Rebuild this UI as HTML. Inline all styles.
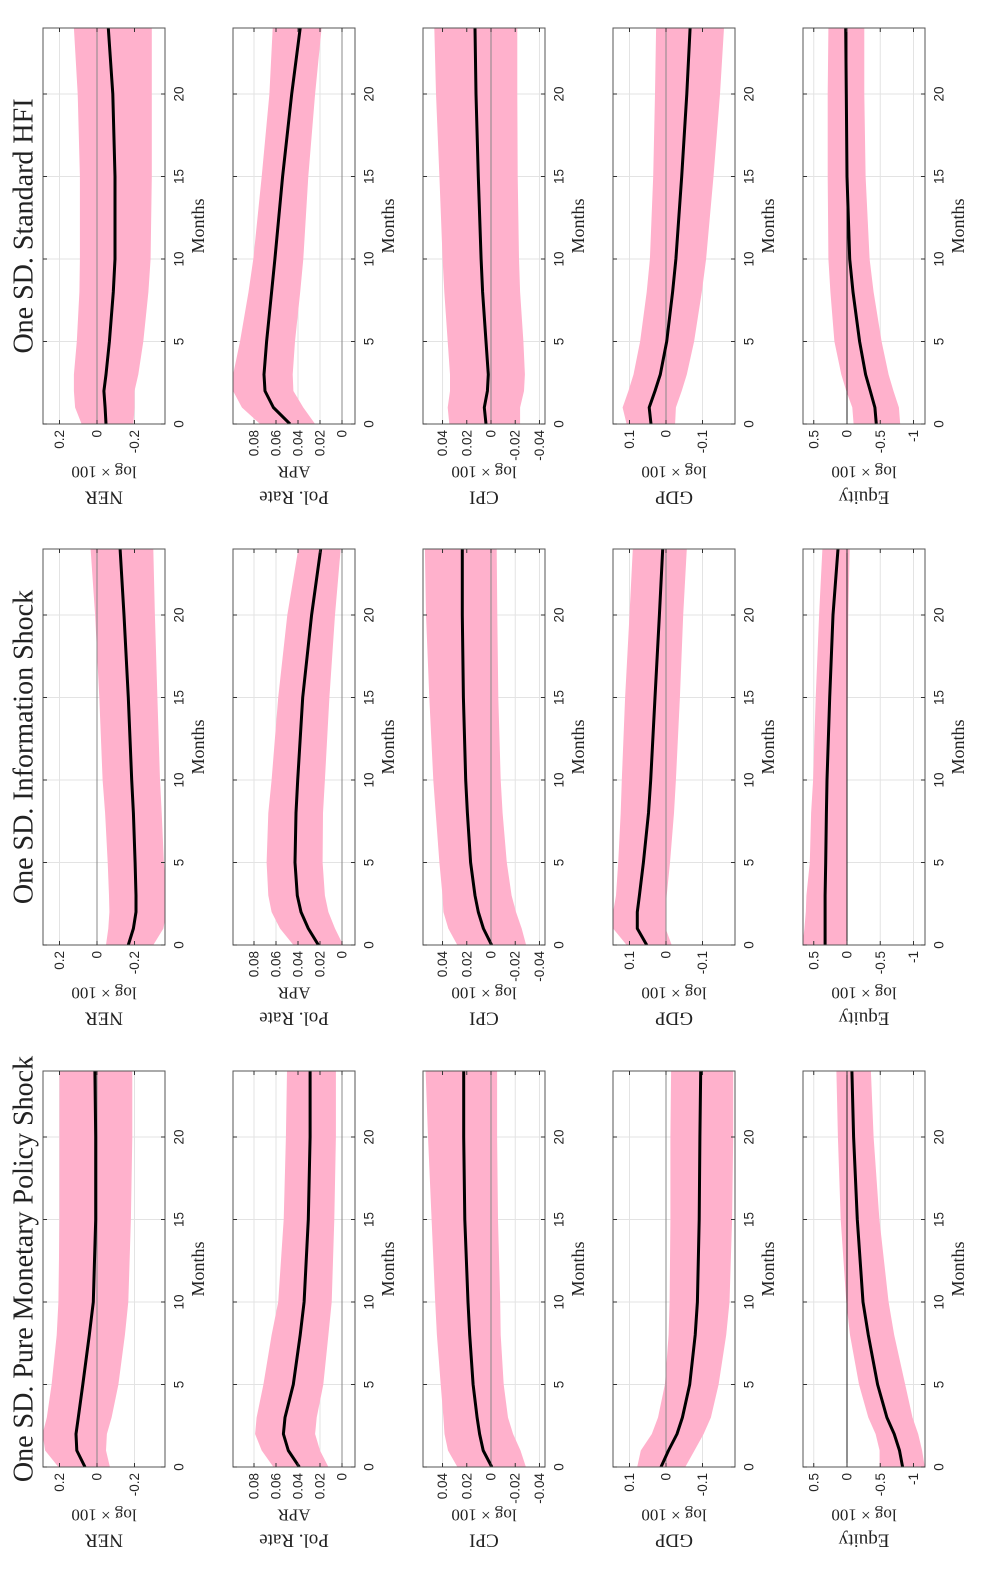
<!DOCTYPE html>
<html><head><meta charset="utf-8">
<style>
html,body{margin:0;padding:0;background:#fff;}
svg{display:block;}
.tick{font-family:"Liberation Sans",sans-serif;font-size:13.5px;fill:#262626;}
.lab{font-family:"Liberation Serif",serif;fill:#222;}
</style></head>
<body>
<svg id="fig" width="981" height="1596" viewBox="0 0 981 1596" xmlns="http://www.w3.org/2000/svg"></svg>
<script>
// ---- data ----
const months = [0,1,2,3,5,8,10,15,20,24];
const shocks = ["One SD. Pure Monetary Policy Shock","One SD. Information Shock","One SD. Standard HFI"];
const variables = ["NER","Pol. Rate","CPI","GDP","Equity"];
const units = ["log × 100","APR","log × 100","log × 100","log × 100"];
const tickNER = [0.2,0,-0.2];
const tickPol = [0.08,0.06,0.04,0.02,0];
const tickCPI = [0.04,0.02,0,-0.02,-0.04];
const tickGDP = [0.1,0,-0.1];
const tickEq = [0.5,0,-0.5,-1];
const tickMonths = [0,5,10,15,20];
// Pure MP shock
const pureNERmid=[0.064,0.108,0.112,0.1,0.076,0.041,0.02,0.007,0.007,0.011];
const pureNERhi=[0.206,0.277,0.29,0.268,0.242,0.215,0.206,0.2,0.2,0.2];
const pureNERlo=[-0.069,-0.048,-0.053,-0.078,-0.114,-0.149,-0.167,-0.181,-0.188,-0.188];
const purePolmid=[0.0388,0.0488,0.0533,0.0518,0.0443,0.038,0.0345,0.0306,0.029,0.029];
const purePolhi=[0.0624,0.073,0.079,0.0776,0.0715,0.064,0.058,0.053,0.051,0.05];
const purePollo=[0.0124,0.02,0.0245,0.023,0.017,0.0124,0.0094,0.007,0.0055,0.0055];
const pureCPImid=[-0.0007,0.0064,0.0094,0.0115,0.0148,0.0176,0.019,0.0216,0.0225,0.0225];
const pureCPIhi=[0.0277,0.0355,0.0384,0.0393,0.0415,0.0446,0.046,0.049,0.052,0.054];
const pureCPIlo=[-0.0288,-0.0243,-0.0182,-0.014,-0.0105,-0.008,-0.0076,-0.0058,-0.005,-0.005];
const pureGDPmid=[0.0137,-0.0068,-0.03,-0.045,-0.065,-0.08,-0.086,-0.091,-0.093,-0.095];
const pureGDPhi=[0.079,0.069,0.039,0.022,0.003,-0.007,-0.01,-0.012,-0.012,-0.014];
const pureGDPlo=[-0.053,-0.078,-0.103,-0.123,-0.144,-0.165,-0.174,-0.181,-0.184,-0.184];
const pureEqmid=[-0.836,-0.79,-0.71,-0.6,-0.46,-0.32,-0.24,-0.155,-0.1,-0.073];
const pureEqhi=[-0.49,-0.49,-0.43,-0.32,-0.18,-0.045,0.01,0.094,0.137,0.16];
const pureEqlo=[-1.17,-1.13,-1.07,-0.985,-0.875,-0.71,-0.625,-0.487,-0.4,-0.36];
// Information shock
const infoNERmid=[-0.167,-0.194,-0.208,-0.208,-0.203,-0.194,-0.185,-0.167,-0.144,-0.123];
const infoNERhi=[-0.048,-0.06,-0.066,-0.064,-0.057,-0.043,-0.03,-0.012,0.01,0.034];
const infoNERlo=[-0.3,-0.354,-0.37,-0.37,-0.357,-0.345,-0.336,-0.322,-0.309,-0.3];
const infoPolmid=[0.0215,0.0306,0.0373,0.0406,0.0427,0.0418,0.0403,0.0357,0.0276,0.0194];
const infoPolhi=[0.0442,0.0564,0.064,0.067,0.0685,0.067,0.064,0.058,0.0497,0.0397];
const infoPollo=[-0.001,0.0064,0.0124,0.0155,0.0176,0.0173,0.0155,0.0115,0.0064,0.0012];
const infoCPImid=[-0.0005,0.0063,0.0105,0.0132,0.0168,0.0195,0.0209,0.0228,0.0237,0.0237];
const infoCPIhi=[0.0278,0.0352,0.0393,0.04,0.0426,0.0456,0.0476,0.0509,0.0536,0.0545];
const infoCPIlo=[-0.029,-0.0253,-0.0206,-0.017,-0.013,-0.0096,-0.008,-0.006,-0.0052,-0.0047];
const infoGDPmid=[0.053,0.0785,0.0785,0.073,0.062,0.048,0.042,0.03,0.018,0.009];
const infoGDPhi=[0.108,0.145,0.145,0.137,0.131,0.124,0.121,0.112,0.1,0.091];
const infoGDPlo=[-0.0155,0.001,0.001,-0.002,-0.011,-0.022,-0.027,-0.038,-0.047,-0.057];
const infoEqmid=[0.33,0.33,0.33,0.33,0.32,0.31,0.3,0.26,0.21,0.135];
const infoEqhi=[0.67,0.64,0.62,0.61,0.56,0.54,0.51,0.47,0.42,0.37];
const infoEqlo=[0.0,0.0,0.0,0.0,0.0,0.0,0.0,-0.01,-0.02,-0.04];
// Standard HFI
const hfiNERmid=[-0.048,-0.043,-0.037,-0.048,-0.066,-0.087,-0.096,-0.096,-0.084,-0.06];
const hfiNERhi=[0.082,0.117,0.123,0.123,0.108,0.094,0.091,0.091,0.103,0.123];
const hfiNERlo=[-0.194,-0.2,-0.2,-0.22,-0.247,-0.274,-0.286,-0.292,-0.292,-0.292];
const hfiPolmid=[0.0473,0.0624,0.07,0.0709,0.0685,0.064,0.061,0.054,0.0457,0.038];
const hfiPolhi=[0.0745,0.091,0.099,0.099,0.0927,0.085,0.0806,0.073,0.066,0.063];
const hfiPollo=[0.0245,0.0352,0.0442,0.0448,0.0427,0.038,0.0352,0.0306,0.0245,0.0185];
const hfiCPImid=[0.0041,0.0055,0.003,0.0022,0.0041,0.0069,0.0082,0.0105,0.0124,0.0132];
const hfiCPIhi=[0.0344,0.0357,0.0338,0.0338,0.0357,0.0385,0.0399,0.0426,0.0454,0.0468];
const hfiCPIlo=[-0.024,-0.024,-0.0272,-0.028,-0.0267,-0.024,-0.0231,-0.022,-0.0217,-0.0217];
const hfiGDPmid=[0.041,0.046,0.03,0.0155,-0.002,-0.018,-0.027,-0.043,-0.057,-0.066];
const hfiGDPhi=[0.108,0.119,0.103,0.089,0.071,0.053,0.044,0.035,0.03,0.027];
const hfiGDPlo=[-0.025,-0.027,-0.043,-0.057,-0.077,-0.098,-0.11,-0.13,-0.148,-0.159];
const hfiEqmid=[-0.44,-0.42,-0.35,-0.28,-0.19,-0.09,-0.04,0.0,0.01,0.02];
const hfiEqhi=[-0.1,-0.08,0.01,0.085,0.19,0.25,0.28,0.29,0.29,0.28];
const hfiEqlo=[-0.8,-0.78,-0.7,-0.625,-0.52,-0.4,-0.34,-0.28,-0.26,-0.26];

const seriesMid=[[pureNERmid,purePolmid,pureCPImid,pureGDPmid,pureEqmid],[infoNERmid,infoPolmid,infoCPImid,infoGDPmid,infoEqmid],[hfiNERmid,hfiPolmid,hfiCPImid,hfiGDPmid,hfiEqmid]];
const seriesHi=[[pureNERhi,purePolhi,pureCPIhi,pureGDPhi,pureEqhi],[infoNERhi,infoPolhi,infoCPIhi,infoGDPhi,infoEqhi],[hfiNERhi,hfiPolhi,hfiCPIhi,hfiGDPhi,hfiEqhi]];
const seriesLo=[[pureNERlo,purePollo,pureCPIlo,pureGDPlo,pureEqlo],[infoNERlo,infoPollo,infoCPIlo,infoGDPlo,infoEqlo],[hfiNERlo,hfiPollo,hfiCPIlo,hfiGDPlo,hfiEqlo]];
const ticksVal=[tickNER,tickPol,tickCPI,tickGDP,tickEq];
const tickFmt=[["0.2","0","-0.2"],["0.08","0.06","0.04","0.02","0"],["0.04","0.02","0","-0.02","-0.04"],["0.1","0","-0.1"],["0.5","0","-0.5","-1"]];

// ---- layout (pixels) ----
const NS="http://www.w3.org/2000/svg";
const svg=document.getElementById('fig');
const boxLeft=[43,233,423,613,803], boxW=122;
const zeroOff=[54,109,68,53,44], pxPerUnit=[187.5,1100,1212,365,66.5];
const blockBottom=[1467,945,424], blockH=396, pxPerMonth=16.5;
const varNames=["ner","pol-rate","cpi","gdp","equity"];
const shockNames=["pure-mp","information","standard-hfi"];

function mk(tag,attrs,parent){const e=document.createElementNS(NS,tag);for(const k in attrs)e.setAttribute(k,attrs[k]);(parent||svg).appendChild(e);return e;}

const defs=mk('defs',{});
for(let i=0;i<3;i++){
  const bottom=blockBottom[i], top=bottom-blockH;
  const title=mk('text',{x:24,y:bottom-blockH/2,class:'lab','font-size':28,'text-anchor':'middle','dominant-baseline':'central',transform:`rotate(-90 24 ${bottom-blockH/2})`});
  
  
  title.textContent=shocks[i];
  for(let j=0;j<5;j++){
    const L=boxLeft[j], R=L+boxW, z=L+zeroOff[j], k=pxPerUnit[j];
    const xv=v=>z-v*k;
    const ym=m=>bottom-m*pxPerMonth;
    const g=mk('g',{});
    
    
    const cid='c'+i+'_'+j;
    const cp=mk('clipPath',{id:cid},defs); mk('rect',{x:L,y:top,width:boxW,height:blockH},cp);
    tickMonths.forEach(m=>{mk('line',{x1:L,x2:R,y1:ym(m),y2:ym(m),stroke:'#e3e3e3','stroke-width':1},g);});
    ticksVal[j].forEach(v=>{mk('line',{x1:xv(v),x2:xv(v),y1:top,y2:bottom,stroke:'#e3e3e3','stroke-width':1},g);});
    const hi=seriesHi[i][j], lo=seriesLo[i][j], mid=seriesMid[i][j];
    let d='M'+months.map((m,n)=>xv(hi[n]).toFixed(1)+','+ym(m).toFixed(1)).join(' L');
    d+=' L'+months.slice().reverse().map((m,n)=>xv(lo[months.length-1-n]).toFixed(1)+','+ym(m).toFixed(1)).join(' L')+' Z';
    const band=mk('path',{d:d,fill:'#ffb1cc','clip-path':`url(#${cid})`},g);
    
    
    mk('line',{x1:z,x2:z,y1:top,y2:bottom,stroke:j==4?'#222':'#888','stroke-width':1},g);
    const ln=mk('polyline',{points:months.map((m,n)=>xv(mid[n]).toFixed(1)+','+ym(m).toFixed(1)).join(' '),fill:'none',stroke:'#000','stroke-width':3,'stroke-linejoin':'round','clip-path':`url(#${cid})`},g);
    
    
    mk('rect',{x:L,y:top,width:boxW,height:blockH,fill:'none',stroke:'#555','stroke-width':1},g);
    tickMonths.forEach(m=>{
      mk('line',{x1:R,x2:R-4,y1:ym(m),y2:ym(m),stroke:'#333'},g);
      mk('line',{x1:L,x2:L+4,y1:ym(m),y2:ym(m),stroke:'#333'},g);
      const t=mk('text',{x:R+14,y:ym(m),class:'tick','text-anchor':'middle','dominant-baseline':'central',transform:`rotate(-90 ${R+14} ${ym(m)})`},g);
      t.textContent=String(m);
    });
    ticksVal[j].forEach((v,n)=>{
      const x=xv(v);
      mk('line',{x1:x,x2:x,y1:bottom,y2:bottom-4,stroke:'#333'},g);
      mk('line',{x1:x,x2:x,y1:top,y2:top+4,stroke:'#333'},g);
      const t=mk('text',{x:x,y:bottom+6,class:'tick','text-anchor':'end','dominant-baseline':'central',transform:`rotate(-90 ${x} ${bottom+6})`},g);
      t.textContent=tickFmt[j][n];
    });
    const mx=R+33, my=bottom-blockH/2;
    const xl=mk('text',{x:mx,y:my,class:'lab','font-size':18,'text-anchor':'middle','dominant-baseline':'central',transform:`rotate(-90 ${mx} ${my})`},g);
    
    
    xl.textContent='Months';
    const cx=L+boxW/2;
    const u=mk('text',{x:cx,y:bottom+48,class:'lab','font-size':17,'text-anchor':'middle','dominant-baseline':'central',transform:`rotate(180 ${cx} ${bottom+48})`},g);
    u.textContent=units[j];
    const vn=mk('text',{x:cx,y:bottom+73,class:'lab','font-size':19,'text-anchor':'middle','dominant-baseline':'central',transform:`rotate(180 ${cx} ${bottom+73})`},g);
    
    
    vn.textContent=variables[j];
  }
}
</script>
</body></html>
